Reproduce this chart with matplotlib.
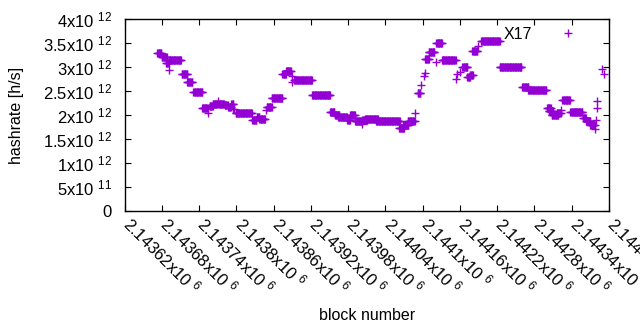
import numpy as np
import matplotlib
matplotlib.use("Agg")
import matplotlib.pyplot as plt
from matplotlib.transforms import ScaledTranslation

plt.rcParams['font.family'] = "Liberation Sans"
plt.rcParams['font.size'] = 11.5
plt.rcParams['mathtext.fontset'] = 'custom'
plt.rcParams['mathtext.rm'] = 'Liberation Sans'
plt.rcParams['mathtext.it'] = 'Liberation Sans'

# runs of blocks sharing one hashrate value (first block, last block, h/s)
run_first = [2143673, 2143680, 2143687, 2143692, 2143692, 2143712, 2143721, 2143731,
             2143745, 2143755, 2143757, 2143762, 2143771, 2143772, 2143781, 2143787,
             2143792, 2143795, 2143799, 2143826, 2143833, 2143837, 2143848, 2143849,
             2143857, 2143874, 2143880, 2143889, 2143890, 2143893, 2143922, 2143951,
             2143959, 2143964, 2143979, 2143983, 2143991, 2144002, 2144003, 2144007,
             2144025, 2144034, 2144062, 2144069, 2144076, 2144088, 2144092, 2144098,
             2144102, 2144103, 2144104, 2144110, 2144121, 2144122, 2144131, 2144153,
             2144156, 2144160, 2144164, 2144172, 2144176, 2144180, 2144189, 2144194,
             2144224, 2144260, 2144270, 2144300, 2144303, 2144308, 2144316, 2144322,
             2144325, 2144338, 2144347, 2144358, 2144363, 2144370, 2144378, 2144379,
             2144380, 2144381, 2144388, 2144392]
run_last = [2143679, 2143688, 2143691, 2143692, 2143711, 2143721, 2143729, 2143745,
            2143754, 2143755, 2143762, 2143770, 2143771, 2143780, 2143786, 2143791,
            2143795, 2143796, 2143825, 2143832, 2143837, 2143846, 2143848, 2143857,
            2143874, 2143880, 2143888, 2143889, 2143890, 2143922, 2143951, 2143958,
            2143966, 2143978, 2143983, 2143991, 2144001, 2144002, 2144011, 2144028,
            2144034, 2144063, 2144070, 2144077, 2144087, 2144088, 2144096, 2144098,
            2144102, 2144103, 2144110, 2144119, 2144121, 2144131, 2144153, 2144153,
            2144156, 2144160, 2144172, 2144176, 2144181, 2144188, 2144189, 2144224,
            2144259, 2144270, 2144299, 2144306, 2144310, 2144318, 2144322, 2144322,
            2144337, 2144347, 2144357, 2144363, 2144370, 2144377, 2144378, 2144379,
            2144380, 2144381, 2144388, 2144392]
run_value = [3.285, 3.215, 3.08, 2.94, 3.14, 2.85, 2.69, 2.47,
             2.14, 2.035, 2.19, 2.23, 2.30, 2.23, 2.20, 2.17,
             2.22, 2.12, 2.05, 1.90, 1.96, 1.91, 2.10, 2.16,
             2.35, 2.85, 2.92, 2.82, 2.68, 2.72, 2.41, 2.06,
             2.00, 1.965, 1.90, 2.00, 1.87, 1.81, 1.90, 1.91,
             1.875, 1.87, 1.72, 1.79, 1.88, 2.035, 2.45, 2.62,
             2.82, 2.87, 3.16, 3.31, 3.11, 3.49, 3.15, 2.75,
             2.85, 2.90, 2.99, 2.79, 2.84, 3.33, 3.44, 3.535,
             2.99, 2.59, 2.515, 2.14, 2.08, 2.00, 2.05, 2.10,
             2.31, 2.07, 2.06, 1.94, 1.865, 1.785, 1.71, 1.90,
             2.15, 2.30, 2.96, 2.85]

blocks = np.concatenate([np.arange(a, b + 1) for a, b in zip(run_first, run_last)])
hashrate = np.concatenate([np.full(b - a + 1, v * 1e12)
                           for a, b, v in zip(run_first, run_last, run_value)])

xticks = np.arange(2143620, 2144401, 60)
yticks = np.arange(0, 4.01e12, 0.5e12)


def sci(v):
    # gnuplot-ish "3.5x10^12" labels
    if v == 0:
        return "0"
    e = int(np.floor(np.log10(v)))
    m = v / 10 ** e
    ms = ("%.6f" % m).rstrip("0").rstrip(".")
    return ms + "x10 $^{%d}$" % e


fig = plt.figure(figsize=(6.4, 3.3), dpi=100)
ax = fig.add_axes([124.5 / 640, 1 - 211 / 330, (609 - 124.5) / 640, (211 - 19) / 330])

ax.plot(blocks, hashrate, "+", color="#9400D3", markersize=5.5, markeredgewidth=1.0,
        label="X17")

ax.set_xlim(2143620, 2144400)
ax.set_ylim(0, 4e12)
ax.set_xticks(xticks)
ax.set_xticklabels([sci(v) for v in xticks], rotation=-45, ha="left", va="bottom",
                   rotation_mode="anchor", fontsize=12)
ax.set_yticks(yticks)
ax.set_yticklabels([sci(v) for v in yticks], fontsize=12)
ax.tick_params(direction="in", top=True, right=True, length=4, width=0.8)
ax.tick_params(axis="y", pad=9)
ax.tick_params(axis="x", pad=12)
shift = ScaledTranslation(-5 / 100, 0, fig.dpi_scale_trans)
for lab in ax.get_xticklabels():
    lab.set_transform(lab.get_transform() + shift)
for s in ax.spines.values():
    s.set_linewidth(1)

ax.set_xlabel("block number")
ax.set_ylabel("hashrate [h/s]")
ax.xaxis.set_label_coords(0.5, -(315 - 211) / 192, transform=ax.transAxes)
ax.yaxis.set_label_coords(-(124.5 - 17) / 484.5, 0.5, transform=ax.transAxes)
ax.xaxis.label.set_va("center")
ax.yaxis.label.set_va("center")

ax.legend(loc="upper right", bbox_to_anchor=(0.989, 1.0), frameon=False,
          markerfirst=False, handlelength=3.5, handletextpad=0.5,
          borderaxespad=0.2, borderpad=0.3)

fig.savefig("out.png", dpi=100)
